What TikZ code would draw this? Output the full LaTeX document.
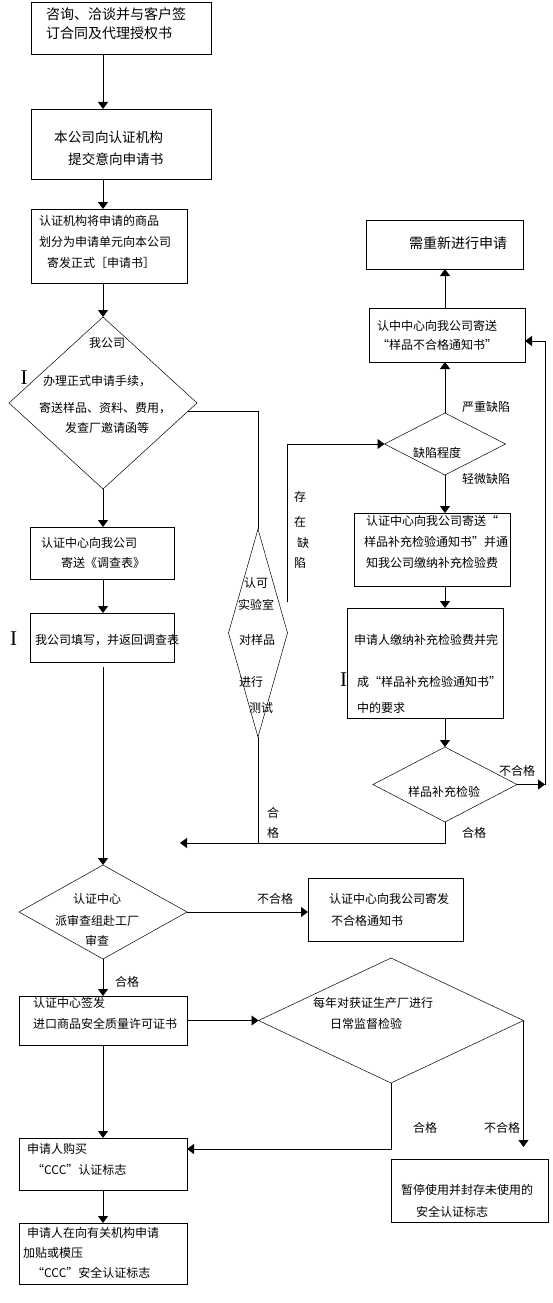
\documentclass[tikz,border=0pt]{standalone}
\usepackage{fontspec}
\setmainfont{Noto Sans CJK SC}
\newfontfamily\ibeamfont{Liberation Serif}
\usetikzlibrary{shapes.geometric,arrows.meta,calc}

\begin{document}
\begin{tikzpicture}[x=1pt,y=-1pt,
  box/.style={draw,line width=0.8pt,inner sep=0pt,outer sep=0pt},
  decision/.style={draw,diamond,line width=0.5pt,inner sep=0pt,outer sep=0pt},
  txt/.style={inner sep=0pt,anchor=west,align=left,font=\fontsize{12}{20}\selectfont},
  bigtxt/.style={txt,font=\fontsize{14}{19}\selectfont},
  ibeam/.style={inner sep=0pt,font=\ibeamfont\fontsize{21}{21}\selectfont},
  wire/.style={line width=0.8pt},
  flow/.style={wire,-{Triangle[length=7pt,width=10pt]}}]
  \useasboundingbox (0,0) rectangle (552,1303);
  \coordinate (col) at (103,0);
  \coordinate (loop) at (545,341);
  \coordinate (merge) at (180,843);

  % left column
  \node[box,minimum width=180,minimum height=52] (consult) at (121,28) {};
  \node[box,minimum width=180,minimum height=70] (intent) at (121,144) {};
  \node[box,minimum width=156,minimum height=74] (unit) at (109,246) {};
  \node[decision,minimum width=188,minimum height=172] (submit) at (103,403) {};
  \node[box,minimum width=144,minimum height=52] (survey) at (102,553) {};
  \node[box,minimum width=144,minimum height=49] (fillin) at (102,637.5) {};
  \node[decision,minimum width=168,minimum height=94] (audit) at (103,912) {};
  \node[box,minimum width=168,minimum height=49] (licence) at (103,1020.5) {};
  \node[box,minimum width=168,minimum height=52] (buy) at (103,1164) {};
  \node[box,minimum width=168,minimum height=61] (affix) at (103,1253.5) {};

  % lab test and right column
  \node[decision,minimum width=59,minimum height=208] (labtest) at (258,633) {};
  \node[box,minimum width=157,minimum height=49] (reapply) at (444.5,244.5) {};
  \node[box,minimum width=156,minimum height=54] (rejectnote) at (447,335) {};
  \node[decision,minimum width=121,minimum height=62] (flaw) at (445,444) {};
  \node[box,minimum width=156,minimum height=73] (supnote) at (432,549.5) {};
  \node[box,minimum width=156,minimum height=110] (suppay) at (425,663) {};
  \node[decision,minimum width=144,minimum height=75] (suptest) at (445,784.5) {};
  \node[box,minimum width=155,minimum height=63] (failnote) at (385.5,909.5) {};
  \node[decision,minimum width=265,minimum height=125] (yearly) at (391,1020.5) {};
  \node[box,minimum width=157,minimum height=63] (suspend) at (469.5,1190.5) {};

  % texts
  \node[bigtxt] (t-consult) at (46,23.5) {咨询、洽谈并与客户签\\订合同及代理授权书};
  \node[txt,font=\fontsize{13.6}{22}\selectfont] (t-intent) at (54,148) {本公司向认证机构\\\hspace*{14pt}提交意向申请书};
  \node[txt] (t-unit) at (39,242) {认证机构将申请的商品\\[1pt]划分为申请单元向本公司\\[1pt]\hspace*{8pt}寄发正式［申请书］};
  \node[txt] (t-submit) at (39,385.5) {\hspace*{50pt}我公司\\[18pt]\hspace*{4pt}办理正式申请手续，\\[7pt]寄送样品、资料、费用，\\\hspace*{26pt}发查厂邀请函等};
  \node[txt] (t-survey) at (41,553) {认证中心向我公司\\\hspace*{20pt}寄送《调查表》};
  \node[txt] (t-fillin) at (35,640) {我公司填写，并返回调查表};
  \node[txt] (t-labtest) at (238,645.5) {\hspace*{6pt}认可\\[2pt]实验室\\[15pt]\hspace*{1pt}对样品\\[22pt]\hspace*{1pt}进行\\[6pt]\hspace*{11pt}测试};
  \node[txt] (t-hasflaw) at (294,530) {存\\[5pt]在\\[1pt]\hspace*{3pt}缺\\陷};
  \node[txt] (t-pass1) at (267,823) {合\\格};
  \node[txt] (t-flaw) at (413,453) {缺陷程度};
  \node[txt] (t-severe) at (462,407) {严重缺陷};
  \node[txt] (t-minor) at (462,479) {轻微缺陷};
  \node[bigtxt] (t-reapply) at (409,243) {需重新进行申请};
  \node[txt,font=\fontsize{12}{19}\selectfont] (t-rejectnote) at (377,335.5) {认中中心向我公司寄送\\“样品不合格通知书”};
  \node[txt] (t-supnote) at (364,542) {\hspace*{2pt}认证中心向我公司寄送“\\[1pt]样品补充检验通知书”并通\\[1pt]\hspace*{2pt}知我公司缴纳补充检验费};
  \node[txt] (t-suppay) at (354,674) {申请人缴纳补充检验费并完\\[22pt]\hspace*{3pt}成“样品补充检验通知书”\\[6pt]\hspace*{3pt}中的要求};
  \node[txt] (t-suptest) at (408,792) {样品补充检验};
  \node[txt] (t-fail1) at (499,771) {不合格};
  \node[txt] (t-pass2) at (462,833) {合格};
  \node[txt,anchor=center,align=center] (t-audit) at (97,920) {认证中心\\[2pt]派审查组赴工厂\\审查};
  \node[txt] (t-fail2) at (257,899) {不合格};
  \node[txt] (t-pass3) at (115,982) {合格};
  \node[txt] (t-failnote) at (329,910) {认证中心向我公司寄发\\[2pt]\hspace*{2pt}不合格通知书};
  \node[txt] (t-licence) at (33,1013.5) {认证中心签发\\[1pt]进口商品安全质量许可证书};
  \node[txt] (t-yearly) at (313,1013.5) {每年对获证生产厂进行\\[1pt]\hspace*{17pt}日常监督检验};
  \node[txt] (t-buy) at (27,1159.5) {申请人购买\\[1pt]\hspace*{5pt}“CCC”认证标志};
  \node[txt] (t-pass4) at (413,1128) {合格};
  \node[txt] (t-fail3) at (484,1128) {不合格};
  \node[txt] (t-suspend) at (401,1201) {暂停使用并封存未使用的\\[2pt]\hspace*{15pt}安全认证标志};
  \node[txt] (t-affix) at (23,1253) {\hspace*{4pt}申请人在向有关机构申请\\加贴或模压\\\hspace*{9pt}“CCC”安全认证标志};
  \node[ibeam] (i-submit) at (24,377.5) {I};
  \node[ibeam] (i-fillin) at (13.5,638.5) {I};
  \node[ibeam] (i-suppay) at (343.5,679.5) {I};

  % connectors
  \draw[flow] (consult.south -| col) -- (intent.north -| col);
  \draw[flow] (intent.south -| col) -- (unit.north -| col);
  \draw[flow] (unit.south -| col) -- (submit.north);
  \draw[flow] (submit.south) -- (survey.north -| col);
  \draw[flow] (survey.south -| col) -- (fillin.north -| col);
  \draw[wire] ($(submit.east)!0.1!(submit.south)$) -| (labtest.north);
  \draw[flow] (labtest.east) ++(0,-31) |- (flaw.west);
  \draw[flow] (flaw.north) -- (flaw.north |- rejectnote.south);
  \draw[flow] (flaw.north |- rejectnote.north) -- (flaw.north |- reapply.south);
  \draw[flow] (flaw.south) -- (flaw.south |- supnote.north);
  \draw[flow] (flaw.south |- supnote.south) -- (flaw.south |- suppay.north);
  \draw[flow] (flaw.south |- suppay.south) -- (suptest.north);
  \draw[flow] (suptest.east) -- (suptest.east -| loop);
  \draw[flow] (suptest.east -| loop) -- (loop) -- (loop -| rejectnote.east);
  \draw[flow] (suptest.south) |- (merge);
  \draw[wire] (labtest.south) -- (labtest.south |- merge);
  \draw[flow] (fillin.south -| col) ++(0,5) -- (audit.north);
  \draw[flow] (audit.east) -- (audit.east -| failnote.west);
  \draw[flow] (audit.south) -- (licence.north);
  \draw[flow] (licence.east) -- (yearly.west);
  \draw[flow] (licence.south) -- (buy.north);
  \draw[flow] (yearly.south) |- ($(buy.east)+(0,-15)$);
  \draw[flow] (yearly.east) -- ($(yearly.east |- suspend.north)+(0,-12)$);
  \draw[flow] (buy.south) -- (affix.north);
\end{tikzpicture}
\end{document}
